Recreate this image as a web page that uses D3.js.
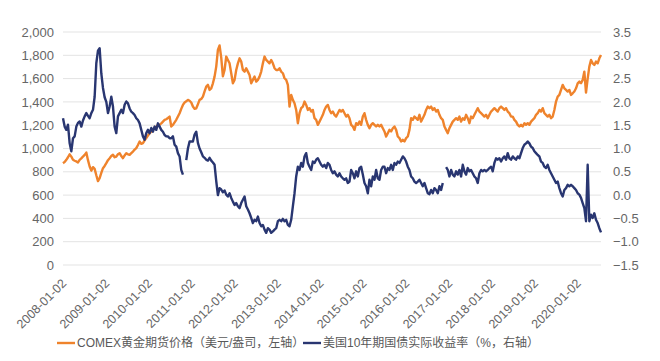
<!DOCTYPE html>
<html><head><meta charset="utf-8">
<script src="https://cdn.jsdelivr.net/npm/d3@7"></script>
<style>
html,body{margin:0;padding:0;background:#fff;}
svg{display:block;}
text{font-family:"Liberation Sans","Noto Sans CJK SC",sans-serif;}
</style></head>
<body>
<svg id="chart" width="660" height="361"></svg>
<script>
// ---- data ----
const startDate = "2008-01-02";
const endDate = "2020-07-19";
const xTickLabels = ["2008-01-02","2009-01-02","2010-01-02","2011-01-02","2012-01-02","2013-01-02","2014-01-02","2015-01-02","2016-01-02","2017-01-02","2018-01-02","2019-01-02","2020-01-02"];
const leftTicks = [0,200,400,600,800,1000,1200,1400,1600,1800,2000];
const rightTicks = [-1.5,-1.0,-0.5,0.0,0.5,1.0,1.5,2.0,2.5,3.0,3.5];
const seriesNames = ["COMEX黄金期货价格（美元/盎司，左轴）","美国10年期国债实际收益率（%，右轴）"];
// COMEX gold futures price, USD/oz, roughly every two weeks
const gold = [
874,885,903,925,950,930,903,895,889,880,
903,915,931,945,965,900,846,810,840,825,
770,720,745,790,831,850,874,900,917,935,
946,925,931,950,960,935,917,940,960,950,
946,960,974,990,1003,1030,1060,1040,1046,1070,
1089,1110,1131,1145,1160,1180,1189,1200,1203,1215,
1231,1245,1251,1262,1274,
1189,1203,1225,1246,1275,1303,1340,1374,1395,1405,
1417,1410,1395,1360,1340,1345,1380,1417,1425,1445,
1490,1531,1546,1503,1517,1560,1617,1703,1846,1885,
1780,1620,1674,1789,1760,1731,1646,1560,1589,1674,
1731,1774,1746,1674,1660,1689,1660,1631,1560,1589,
1617,1574,1589,1617,1660,1731,1789,1760,1746,1731,
1760,1731,1689,1674,
1674,1689,1660,1646,1603,1589,1546,1360,1460,1417,
1389,1331,1217,1303,1346,1360,1403,1374,1331,1346,
1317,1331,1260,1246,1203,1231,1260,1289,1331,1360,
1374,1331,1303,1317,1289,1274,1303,1331,1317,1331,
1303,1274,1289,1260,1203,1189,1160,1217,1203,1231,
1203,1274,1303,1246,1203,1174,1203,1217,1203,1189,
1203,1189,1203,1174,
1146,1103,1131,1160,1146,1174,1189,1160,1103,1089,
1060,1074,1060,1089,1103,1160,1260,1246,1274,1260,
1246,1289,1231,1260,1289,1331,1360,1346,1360,1331,
1346,1317,1331,1289,1260,1246,1189,1160,1131,1174,
1203,1231,1246,1260,1246,1274,1231,1260,1246,1289,
1260,1217,1274,1260,1289,1317,1346,1317,1303,1289,
1274,1289,1260,1289,1317,
1331,1346,1331,1317,1346,1360,1346,1331,1346,1317,
1303,1274,1274,1246,1231,1203,1189,1203,1189,1217,
1203,1217,1203,1231,1246,1260,1289,1303,1331,1317,
1346,1303,1289,1274,1289,1260,1274,1331,1403,1446,
1460,1503,1546,1517,1503,1489,1503,1460,1474,1489,
1517,1560,1574,1560,1589,1660,1480,1600,1703,1760,
1731,1717,1746,1731,1774,1803
];
// US 10-year real yield, %, same sampling (null = missing)
const realYield = [
1.65,1.47,1.40,1.51,1.11,0.94,1.22,1.26,1.47,1.55,
1.58,1.47,1.60,1.69,1.76,1.70,1.65,1.76,1.83,2.11,
2.83,3.10,3.15,2.61,2.30,2.10,2.00,1.76,1.90,2.11,
1.90,1.47,1.33,1.69,1.76,1.83,1.76,1.94,2.01,1.97,
1.86,1.79,1.76,1.72,1.65,1.61,1.54,1.40,1.26,1.19,
1.33,1.40,1.33,1.44,1.36,1.47,1.40,1.54,1.47,1.40,
1.36,1.29,1.26,1.26,1.22,
1.22,1.26,1.08,1.04,0.90,0.83,0.54,0.44,null,0.75,
1.00,1.15,1.15,1.15,1.30,1.36,1.12,1.00,0.92,0.83,
0.80,0.76,0.74,0.80,0.74,0.70,0.65,0.30,0.00,0.15,
0.12,0.06,0.10,0.01,-0.03,0.04,-0.06,-0.14,-0.21,-0.17,
-0.24,-0.28,-0.17,-0.10,-0.03,-0.24,-0.31,-0.39,-0.49,-0.60,
-0.53,-0.56,-0.46,-0.60,-0.67,-0.64,-0.74,-0.81,-0.71,-0.74,
-0.81,-0.78,-0.74,-0.71,
-0.56,-0.53,-0.56,-0.51,-0.56,-0.53,-0.64,-0.67,-0.53,-0.24,
0.04,0.40,0.61,0.54,0.69,0.61,0.83,0.90,0.69,0.61,
0.54,0.72,0.69,0.76,0.79,0.72,0.65,0.61,0.65,0.58,
0.69,0.65,0.54,0.47,0.51,0.44,0.40,0.47,0.40,0.36,
0.33,0.36,0.26,0.29,0.54,0.47,0.36,0.51,0.40,0.58,
0.61,0.44,0.26,0.19,0.04,0.33,0.19,0.40,0.33,0.54,
0.36,0.33,0.54,0.61,
0.61,0.47,0.58,0.54,0.65,0.54,0.69,0.65,0.72,0.69,
0.76,0.83,0.79,0.72,0.61,0.54,0.40,0.36,0.29,0.26,
0.29,0.33,0.26,0.19,0.26,0.15,0.04,0.02,0.11,0.04,
0.15,0.11,0.04,0.19,0.11,0.26,null,0.60,0.54,0.40,
0.54,0.44,0.40,0.51,0.44,0.54,0.40,0.65,0.51,0.44,
0.58,0.51,0.54,0.47,0.40,0.36,0.26,0.47,0.54,0.51,
0.54,0.51,0.54,0.58,0.61,
0.51,0.69,0.79,0.76,0.79,0.72,0.79,0.83,0.76,0.90,
0.79,0.76,0.83,0.79,0.76,0.83,0.79,0.90,1.01,1.08,
1.11,1.15,1.11,1.04,1.01,0.94,0.90,0.86,0.83,0.72,
0.69,0.61,0.58,0.65,0.54,0.47,0.40,0.33,0.26,0.29,
0.15,0.04,-0.03,0.11,0.15,0.22,0.19,0.22,0.19,0.15,
0.11,0.04,0.01,-0.06,-0.17,-0.28,-0.56,0.65,-0.56,-0.42,
-0.49,-0.39,-0.53,-0.60,-0.71,-0.80
];

// ---- layout ----
const W = 660, H = 361;
const plot = {left: 63, right: 601, top: 32, bottom: 265};
const colors = {gold: "#EF832C", ry: "#293671", grid: "#E3E3E3", text: "#666666"};

const parse = d3.utcParse("%Y-%m-%d");
const t0 = parse(startDate), t1 = parse(endDate);
const x = d3.scaleUtc().domain([t0, t1]).range([plot.left, plot.right]);
const yL = d3.scaleLinear().domain([0, 2000]).range([plot.bottom, plot.top]);
const yR = d3.scaleLinear().domain([-1.5, 3.5]).range([plot.bottom, plot.top]);

function withDates(vals) {
  const n = vals.length;
  return vals.map((v, i) => ({date: new Date(+t0 + (t1 - t0) * i / (n - 1)), v}));
}

const svg = d3.select("#chart");
svg.append("rect").attr("width", W).attr("height", H).attr("fill", "#fff");

// grid
svg.append("g").selectAll("line").data(leftTicks).join("line")
  .attr("x1", plot.left).attr("x2", plot.right)
  .attr("y1", d => yL(d)).attr("y2", d => yL(d))
  .attr("stroke", colors.grid).attr("stroke-width", 1);

// left axis
const gL = svg.append("g").attr("transform", `translate(${plot.left - 9},0)`)
  .call(d3.axisLeft(yL).tickValues(leftTicks).tickSize(0).tickPadding(0).tickFormat(d3.format(",")));
gL.select(".domain").remove();
gL.selectAll("text").attr("fill", colors.text).attr("font-size", 13);

// right axis
const gR = svg.append("g").attr("transform", `translate(${plot.right + 12},0)`)
  .call(d3.axisRight(yR).tickValues(rightTicks).tickSize(0).tickPadding(0).tickFormat(d3.format(".1f")));
gR.select(".domain").remove();
gR.selectAll("text").attr("fill", colors.text).attr("font-size", 13);

// x labels (rotated)
svg.append("g").selectAll("text").data(xTickLabels).join("text")
  .attr("transform", d => `translate(${x(parse(d)) + 1},${plot.bottom + 16}) rotate(-45)`)
  .attr("text-anchor", "end").attr("dy", "0.35em")
  .attr("font-size", 12.5).attr("fill", colors.text)
  .text(d => d);

// lines
const lineG = d3.line().x(d => x(d.date)).y(d => yL(d.v));
const lineR = d3.line().defined(d => d.v !== null).x(d => x(d.date)).y(d => yR(d.v));
svg.append("path").datum(withDates(gold)).attr("d", lineG)
  .attr("fill", "none").attr("stroke", colors.gold).attr("stroke-width", 2.4).attr("stroke-linejoin", "round");
svg.append("path").datum(withDates(realYield)).attr("d", lineR)
  .attr("fill", "none").attr("stroke", colors.ry).attr("stroke-width", 2.4).attr("stroke-linejoin", "round");

// legend
const legend = [
  {name: seriesNames[0], color: colors.gold, x: 57},
  {name: seriesNames[1], color: colors.ry, x: 303}
];
const lg = svg.append("g").selectAll("g").data(legend).join("g")
  .attr("transform", d => `translate(${d.x},343)`);
lg.append("line").attr("x1", 0).attr("x2", 18).attr("stroke", d => d.color).attr("stroke-width", 2.4);
lg.append("text").attr("x", 20).attr("dy", "0.35em").attr("font-size", 12)
  .attr("fill", "#595959").text(d => d.name);
</script>
</body></html>
